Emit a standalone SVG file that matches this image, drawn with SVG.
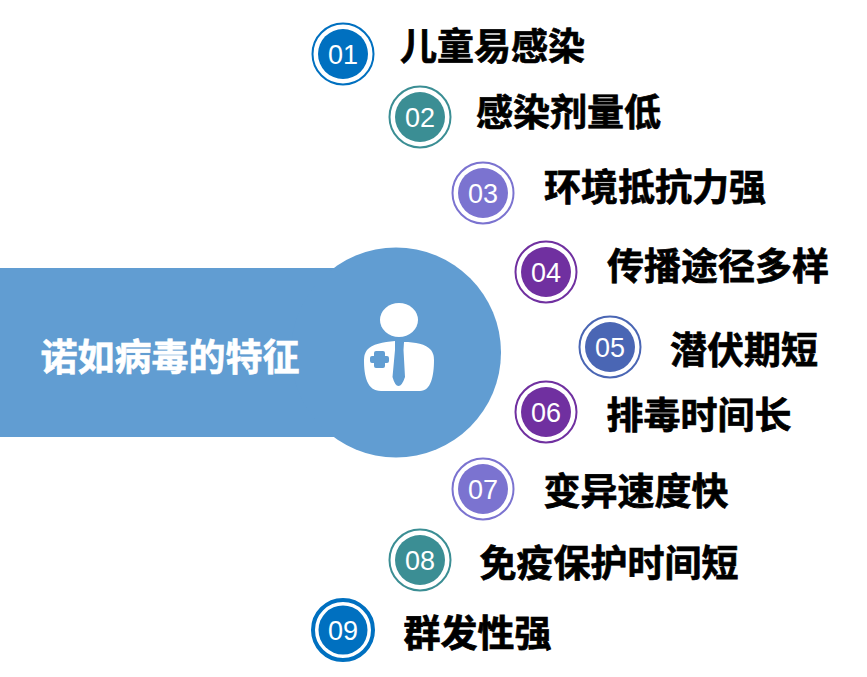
<svg xmlns="http://www.w3.org/2000/svg" width="867" height="677" viewBox="0 0 867 677">
<style>
.t{font-family:"Noto Sans CJK SC","Liberation Sans",sans-serif;font-weight:700;font-size:37px;fill:#000;stroke:#000;stroke-width:.7px}
.n{font-family:"Liberation Sans",Arial,sans-serif;font-size:27px;fill:#fff;text-anchor:middle}
.r{fill:none;stroke-width:2}
.blue{fill:#0070c0}.teal{fill:#3b8e94}.vio{fill:#7b73d0}.pur{fill:#7030a0}.ind{fill:#4a66b4}
.sblue{stroke:#0070c0}.steal{stroke:#3b8e94}.svio{stroke:#7b73d0}.spur{stroke:#7030a0}.sind{stroke:#4a66b4}
</style>
<rect width="867" height="677" fill="#fff"/>
<g id="hub">
<rect x="0" y="268" width="340" height="169" fill="#619dd2"/>
<circle cx="396" cy="352.500" r="105" fill="#619dd2"/>
<text x="170" y="370.500" font-family="'Noto Sans CJK SC',sans-serif" font-weight="700" font-size="37px" fill="#fff" stroke="#fff" stroke-width=".6" text-anchor="middle">诺如病毒的特征</text>
<g id="icon">
<ellipse cx="399" cy="320" rx="19" ry="17" fill="#fff"/>
<path d="M395 341C383 342 372 344 367 350Q364 354 364 360C364 376 367 391 381 391L420 391C431 391 434 376 434 360Q434 354 431 350C426 344 415 342 404 342L403.500 350L405 377Q402 386 398.500 386Q395 386 392.500 377L395 350Z" fill="#fff"/>
<path d="M376 351h7q2 0 2 2v3h2q2 0 2 2v3q0 2-2 2h-2v3q0 2-2 2h-7q-2 0-2-2v-3h-2q-2 0-2-2v-3q0-2 2-2h2v-3q0-2 2-2z" fill="#619dd2"/>
</g>
</g>
<g id="n01"><circle class="r sblue" cx="343" cy="54" r="30.500"/><circle class="blue" cx="343" cy="54" r="25"/><text class="n" x="343" y="63.500">01</text><text class="t" x="400" y="60">儿童易感染</text></g>
<g id="n02"><circle class="r steal" cx="420" cy="117" r="30.500"/><circle class="teal" cx="420" cy="117" r="25"/><text class="n" x="420" y="126.500">02</text><text class="t" x="476" y="126">感染剂量低</text></g>
<g id="n03"><circle class="r svio" cx="483" cy="193" r="30.500"/><circle class="vio" cx="483" cy="193" r="25"/><text class="n" x="483" y="202.500">03</text><text class="t" x="544" y="201">环境抵抗力强</text></g>
<g id="n04"><circle class="r spur" cx="546" cy="272" r="30.500"/><circle class="pur" cx="546" cy="272" r="25"/><text class="n" x="546" y="281.500">04</text><text class="t" x="607" y="280">传播途径多样</text></g>
<g id="n05"><circle class="r sind" cx="610" cy="347" r="30.500"/><circle class="ind" cx="610" cy="347" r="25"/><text class="n" x="610" y="356.500">05</text><text class="t" x="670" y="364">潜伏期短</text></g>
<g id="n06"><circle class="r spur" cx="546" cy="412" r="30.500"/><circle class="pur" cx="546" cy="412" r="25"/><text class="n" x="546" y="421.500">06</text><text class="t" x="606.500" y="429">排毒时间长</text></g>
<g id="n07"><circle class="r svio" cx="483" cy="489" r="30.500"/><circle class="vio" cx="483" cy="489" r="25"/><text class="n" x="483" y="498.500">07</text><text class="t" x="543.500" y="505">变异速度快</text></g>
<g id="n08"><circle class="r steal" cx="420" cy="560" r="30.500"/><circle class="teal" cx="420" cy="560" r="25"/><text class="n" x="420" y="569.500">08</text><text class="t" x="479.500" y="577">免疫保护时间短</text></g>
<g id="n09"><circle class="r sblue" cx="343" cy="630" r="30" style="stroke-width:4"/><circle class="blue" cx="343" cy="630" r="24.500"/><text class="n" x="343" y="639.500">09</text><text class="t" x="403.500" y="647">群发性强</text></g>
<g id="connectors"/>
</svg>
